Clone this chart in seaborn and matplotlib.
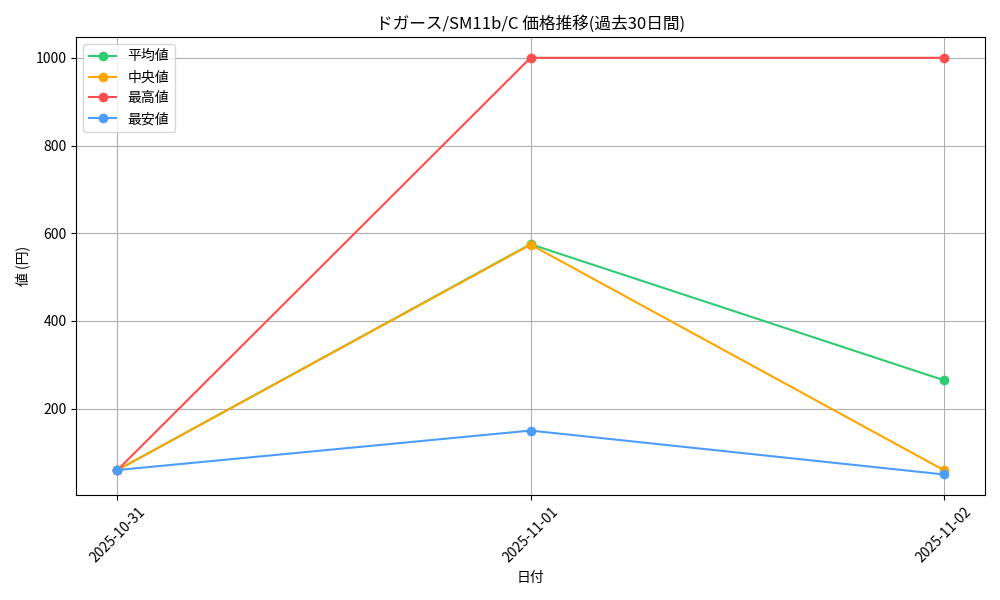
import seaborn as sns
import matplotlib
matplotlib.use("Agg")
import matplotlib.pyplot as plt
import pandas as pd

plt.rcParams['font.family'] = ['Noto Sans CJK JP', 'DejaVu Sans']

# data
dates = ["2025-10-31", "2025-11-01", "2025-11-02"]
avg_vals = [60, 575, 265]
median_vals = [60, 574, 60]
max_vals = [60, 1000, 1000]
min_vals = [60, 150, 50]

series = [
    ("平均値", avg_vals, "#2ecc71"),
    ("中央値", median_vals, "#ffa500"),
    ("最高値", max_vals, "#ff4d4d"),
    ("最安値", min_vals, "#4d9dff"),
]

fig, ax = plt.subplots(figsize=(10, 6), dpi=100)

for name, vals, color in series:
    df = pd.DataFrame({"date": dates, "value": vals})
    sns.lineplot(data=df, x="date", y="value", ax=ax, label=name, color=color,
                 marker="o", markersize=7, markeredgewidth=0, linewidth=1.5)

ax.set_title("ドガース/SM11b/C 価格推移(過去30日間)")
ax.set_xlabel("日付")
ax.set_ylabel("値 (円)")
ax.grid(True, color="#b0b0b0")
plt.xticks(rotation=45)
ax.legend(loc="upper left")
plt.tight_layout()
plt.savefig("out.png")
plt.close('all')
